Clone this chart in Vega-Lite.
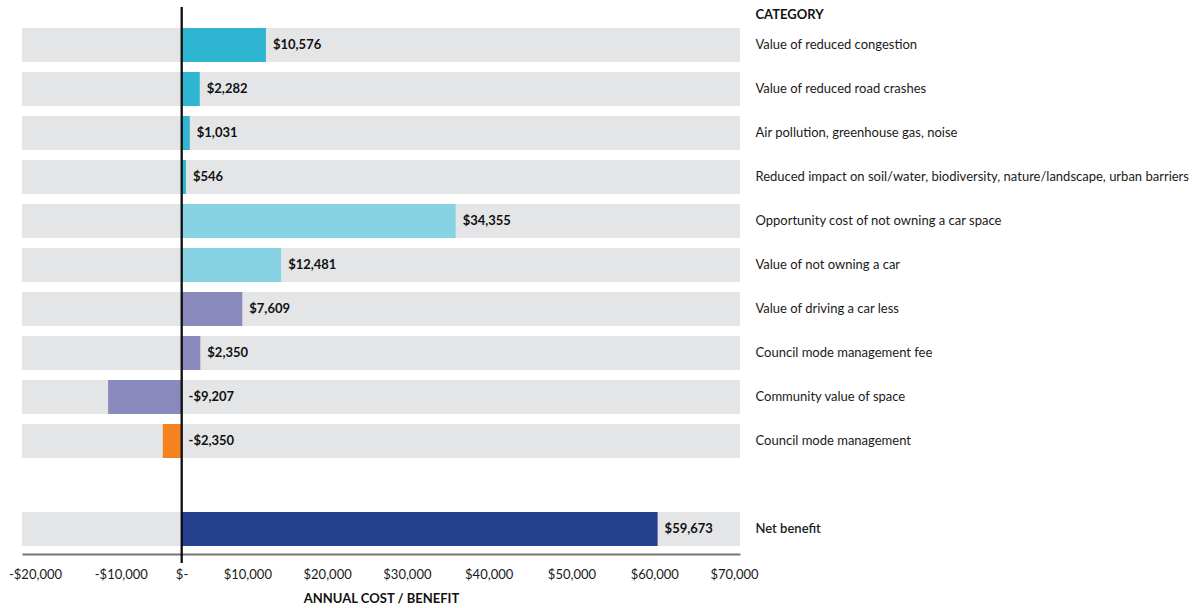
{
  "$schema": "https://vega.github.io/schema/vega-lite/v6.json",
  "autosize": {"type": "none"},
  "width": 718,
  "height": 556,
  "padding": {"left": 22, "top": 7, "right": 461, "bottom": 45},
  "background": "white",
  "config": {"view": {"stroke": null}, "font": "Lato"},
  "data": {
    "values": [
      {"category": "Value of reduced congestion", "value": 10576, "label": "$10,576", "group": "a"},
      {"category": "Value of reduced road crashes", "value": 2282, "label": "$2,282", "group": "a"},
      {"category": "Air pollution, greenhouse gas, noise", "value": 1031, "label": "$1,031", "group": "a"},
      {"category": "Reduced impact on soil/water, biodiversity, nature/landscape, urban barriers", "value": 546, "label": "$546", "group": "a"},
      {"category": "Opportunity cost of not owning a car space", "value": 34355, "label": "$34,355", "group": "b"},
      {"category": "Value of not owning a car", "value": 12481, "label": "$12,481", "group": "b"},
      {"category": "Value of driving a car less", "value": 7609, "label": "$7,609", "group": "c"},
      {"category": "Council mode management fee", "value": 2350, "label": "$2,350", "group": "c"},
      {"category": "Community value of space", "value": -9207, "label": "-$9,207", "group": "c"},
      {"category": "Council mode management", "value": -2350, "label": "-$2,350", "group": "d"},
      {"category": "Net benefit", "value": 59673, "label": "$59,673", "group": "e"}
    ]
  },
  "layer": [
    {
      "mark": {"type": "bar", "color": "#E4E5E7"},
      "encoding": {
        "y": {
          "field": "category",
          "type": "nominal",
          "sort": null,
          "scale": {
            "domain": [
              "Value of reduced congestion",
              "Value of reduced road crashes",
              "Air pollution, greenhouse gas, noise",
              "Reduced impact on soil/water, biodiversity, nature/landscape, urban barriers",
              "Opportunity cost of not owning a car space",
              "Value of not owning a car",
              "Value of driving a car less",
              "Council mode management fee",
              "Community value of space",
              "Council mode management",
              " ",
              "Net benefit"
            ],
            "paddingInner": 0.227,
            "paddingOuter": 0.4316,
            "align": 0.553
          },
          "axis": {
            "orient": "right",
            "domain": false,
            "ticks": false,
            "labelPadding": 15,
            "labelAlign": "left",
            "labelFont": "Lato",
            "labelFontSize": 13,
            "labelColor": "#1a1a1a",
            "labelLimit": 460,
            "labelFontWeight": {"condition": {"test": "datum.value == 'Net benefit'", "value": 600}, "value": "normal"},
            "title": "CATEGORY",
            "titleAngle": 0,
            "titleAlign": "left",
            "titleBaseline": "middle",
            "titleX": 15,
            "titleY": 7.5,
            "titleFont": "Lato",
            "titleFontSize": 13,
            "titleFontWeight": "bold",
            "titleColor": "#111"
          }
        },
        "x": {
          "datum": -20000,
          "type": "quantitative",
          "scale": {"domain": [-20000, 70000], "nice": false},
          "axis": {
            "values": [-20000, -10000, 0, 10000, 20000, 30000, 40000, 50000, 60000, 70000],
            "grid": false,
            "ticks": false,
            "tickSize": 0,
            "offset": -9,
            "domainColor": "#777777",
            "domainWidth": 2,
            "labelPadding": 14,
            "labelFlush": false,
            "labelOverlap": false,
            "labelOffset": {
              "condition": [
                {"test": "datum.value == -20000", "value": 13},
                {"test": "datum.value == -10000", "value": 19},
                {"test": "datum.value == 0", "value": 0},
                {"test": "datum.value <= 30000", "value": -14},
                {"test": "datum.value == 40000", "value": -12},
                {"test": "datum.value == 50000", "value": -9}
              ],
              "value": -6
            },
            "labelFont": "Lato",
            "labelFontSize": 13,
            "labelColor": "#1a1a1a",
            "labelExpr": "datum.value == 0 ? '$-' : (datum.value < 0 ? '-$' + format(-datum.value, ',') : '$' + format(datum.value, ','))",
            "title": "ANNUAL COST / BENEFIT",
            "titleFont": "Lato",
            "titleFontSize": 13,
            "titleFontWeight": "bold",
            "titleColor": "#111",
            "titleBaseline": "middle",
            "titleY": 44
          }
        },
        "x2": {"datum": 70000}
      }
    },
    {
      "mark": {"type": "bar"},
      "encoding": {
        "y": {"field": "category", "type": "nominal", "sort": null},
        "x": {"field": "value", "type": "quantitative"},
        "x2": {"datum": 0},
        "color": {
          "field": "group",
          "type": "nominal",
          "scale": {"domain": ["a", "b", "c", "d", "e"], "range": ["#2EB5D1", "#86D3E3", "#8A89BD", "#F58220", "#24408E"]},
          "legend": null
        }
      }
    },
    {
      "mark": {"type": "rule", "color": "#111111", "strokeWidth": 1.2},
      "encoding": {"x": {"datum": 0}}
    },
    {
      "transform": [{"filter": "datum.value >= 0"}],
      "mark": {"type": "text", "align": "left", "baseline": "middle", "dx": 7, "font": "Lato", "fontSize": 13, "fontWeight": "bold", "color": "#111"},
      "encoding": {
        "y": {"field": "category", "type": "nominal", "sort": null},
        "x": {"field": "value", "type": "quantitative"},
        "text": {"field": "label"}
      }
    },
    {
      "transform": [{"filter": "datum.value < 0"}],
      "mark": {"type": "text", "align": "left", "baseline": "middle", "dx": 7, "font": "Lato", "fontSize": 13, "fontWeight": "bold", "color": "#111"},
      "encoding": {
        "y": {"field": "category", "type": "nominal", "sort": null},
        "x": {"datum": 0},
        "text": {"field": "label"}
      }
    }
  ]
}
